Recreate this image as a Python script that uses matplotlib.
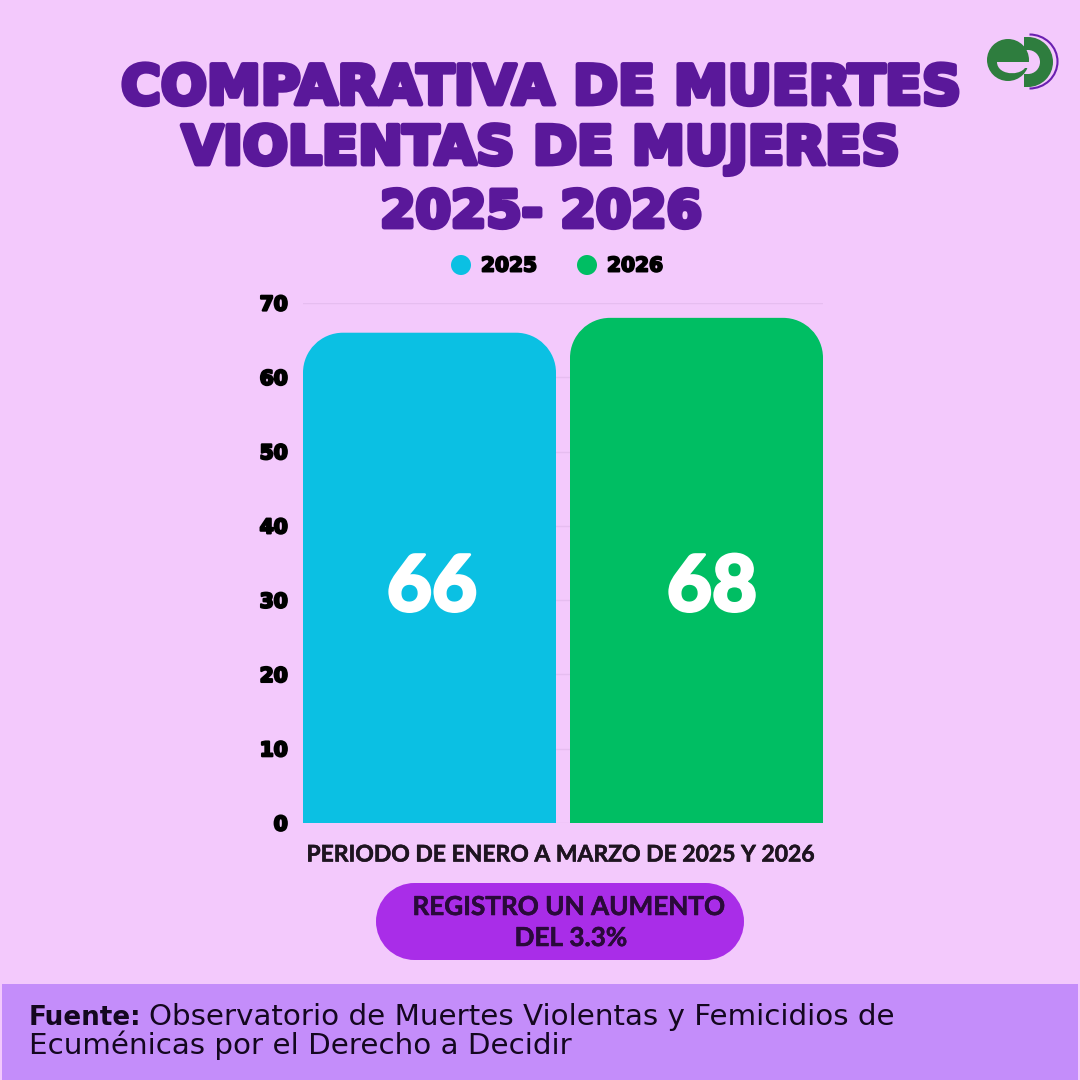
import matplotlib
matplotlib.use("Agg")
import matplotlib.pyplot as plt
import matplotlib.patheffects as pe
from matplotlib.patches import PathPatch, Rectangle, Circle, Wedge, Arc
from matplotlib.path import Path

categories = ["2025", "2026"]
values = [66, 68]
colors = ["#0BC0E3", "#00BE63"]
y_ticks = [0, 10, 20, 30, 40, 50, 60, 70]
title_lines = ["COMPARATIVA DE MUERTES", "VIOLENTAS DE MUJERES", "2025- 2026"]
xlabel = "PERIODO DE ENERO A MARZO DE 2025 Y 2026"
callout_lines = ["REGISTRO UN AUMENTO", "DEL 3.3%"]
source_bold = "Fuente:"
source_line1 = "Observatorio de Muertes Violentas y Femicidios de"
source_line2 = "Ecuménicas por el Derecho a Decidir"

BG = "#F3C9FC"
PURPLE = "#5A189A"
fig = plt.figure(figsize=(10.8, 10.8), dpi=100, facecolor=BG)

ov = fig.add_axes([0, 0, 1, 1], zorder=3)
ov.set_xlim(0, 1080); ov.set_ylim(1080, 0); ov.axis("off"); ov.patch.set_alpha(0)

ax = fig.add_axes([303/1080, (1080-823)/1080, 520/1080, 520/1080], zorder=2)
ax.patch.set_alpha(0)
step_px = 267
ax.set_xlim(-126.5/step_px, 1 + 126.5/step_px); ax.set_ylim(0, 70)
ax.set_yticks(y_ticks)
ax.set_yticklabels([str(v) for v in y_ticks], family="DejaVu Sans", weight="bold", fontsize=14.5, color="black",
                   path_effects=[pe.withStroke(linewidth=1.6, foreground="black")])
ax.tick_params(axis="y", length=0, pad=11)
ax.set_xticks([])
for s in ax.spines.values():
    s.set_visible(False)
ax.grid(axis="y", color="#E6BDF0", lw=1)
ax.set_axisbelow(True)

bars = ax.bar(range(len(values)), values, width=253/step_px, color=colors, linewidth=0)
r_px = 40
k = 0.5523
sx = 1/step_px; sy = 70/520
for b, c in zip(bars, colors):
    x0, w, h = b.get_x(), b.get_width(), b.get_height()
    x1 = x0 + w
    rx, ry = r_px*sx, r_px*sy
    verts = [(x0, 0), (x0, h-ry),
             (x0, h-ry+k*ry), (x0+rx-k*rx, h), (x0+rx, h),
             (x1-rx, h),
             (x1-rx+k*rx, h), (x1, h-ry+k*ry), (x1, h-ry),
             (x1, 0), (x0, 0)]
    codes = [Path.MOVETO, Path.LINETO, Path.CURVE4, Path.CURVE4, Path.CURVE4, Path.LINETO,
             Path.CURVE4, Path.CURVE4, Path.CURVE4, Path.LINETO, Path.CLOSEPOLY]
    b.set_visible(False)
    ax.add_patch(PathPatch(Path(verts, codes), facecolor=c, edgecolor="none", zorder=2))

for xp, v in zip([432, 712], values):
    ov.text(xp, 611, str(v), ha="center", va="baseline", family="Lato", weight="black",
            fontsize=56, color="white", path_effects=[pe.withStroke(linewidth=2, foreground="white")])

for yp, line, fs in zip([104, 164, 227], title_lines, [39, 38.3, 36.6]):
    ov.text(541, yp, line, ha="center", va="baseline", family="DejaVu Sans", weight="bold", fontsize=fs, color=PURPLE,
            path_effects=[pe.withStroke(linewidth=3.5, foreground=PURPLE)])

for xp, tx, lab, c in zip([461, 587], [481, 607], categories, colors):
    ov.add_patch(Circle((xp, 265), 10, facecolor=c, edgecolor="none"))
    ov.text(tx, 266, lab, ha="left", va="center", family="DejaVu Sans", weight="bold", fontsize=14.5, color="black",
            path_effects=[pe.withStroke(linewidth=1.4, foreground="black")])

ov.text(560.5, 855, xlabel, ha="center", va="center", family="Lato", weight="bold", fontsize=16.5, color="#1E1420",
        path_effects=[pe.withStroke(linewidth=0.4, foreground="#1E1420")])

CALL = "#A92DE8"
ov.add_patch(Rectangle((376+38.5, 883), 368-77, 77, facecolor=CALL, edgecolor="none"))
ov.add_patch(Circle((376+38.5, 921.5), 38.5, facecolor=CALL, edgecolor="none"))
ov.add_patch(Circle((744-38.5, 921.5), 38.5, facecolor=CALL, edgecolor="none"))
for yp, line, xp in zip([907, 938], callout_lines, [569, 571]):
    ov.text(xp, yp, line, ha="center", va="center", family="Lato", weight="bold", fontsize=18.8, color="#2A0A3A",
            path_effects=[pe.withStroke(linewidth=0.4, foreground="#2A0A3A")])

ov.add_patch(Rectangle((2, 984), 1076, 96, facecolor="#C48DFA", edgecolor="none"))
ov.text(29, 1025, source_bold, ha="left", va="baseline", family="DejaVu Sans", weight="bold", fontsize=18.9, color="#14071F")
ov.text(149, 1025, source_line1, ha="left", va="baseline", family="DejaVu Sans", fontsize=21.2, color="#14071F")
ov.text(29, 1054, source_line2, ha="left", va="baseline", family="DejaVu Sans", fontsize=21.2, color="#14071F")

G = "#2E7D3E"
ov.add_patch(Circle((1008, 60), 21, facecolor=G, edgecolor="none"))
slot = Path([(997, 62), (997, 77), (1027, 77), (1027, 62), (997, 62)],
            [Path.MOVETO, Path.CURVE4, Path.CURVE4, Path.CURVE4, Path.CLOSEPOLY])
ov.add_patch(PathPatch(slot, facecolor=BG, edgecolor="none"))
ov.add_patch(Rectangle((1018, 62), 12, 6, facecolor=BG, edgecolor="none"))
ov.add_patch(Wedge((1028, 62), 25, -90, 90, width=13, facecolor=G, edgecolor="none"))
ov.add_patch(Rectangle((1024, 37), 4, 13, facecolor=G, edgecolor="none"))
ov.add_patch(Rectangle((1024, 74), 4, 13, facecolor=G, edgecolor="none"))
ov.add_patch(Arc((1029.5, 61.5), 56, 54, theta1=-90, theta2=90, color="#6A1FB0", lw=1.5))

fig.savefig("out.png", dpi=100, facecolor=BG)
